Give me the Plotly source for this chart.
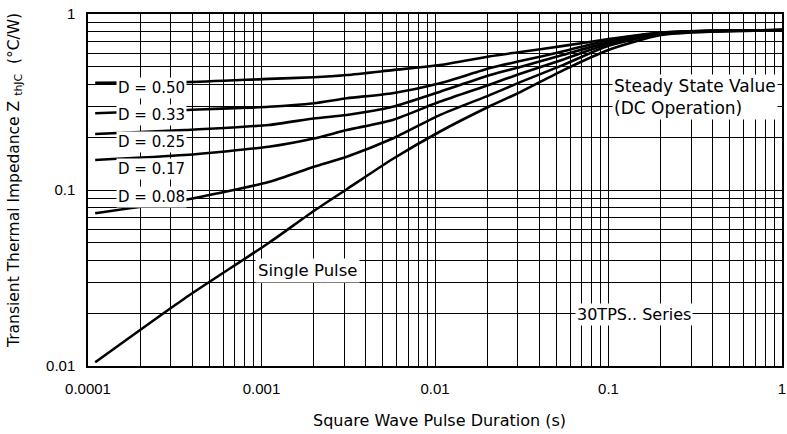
import math
import plotly.graph_objects as go

# ---- data ----
pulse_s = [0.00011, 0.00036, 0.0011, 0.002, 0.0031, 0.0057, 0.0107, 0.0208, 0.031, 0.055, 0.1, 0.2, 0.4, 1.0]
z_d50 = [0.407, 0.41, 0.428, 0.437, 0.45, 0.48, 0.513, 0.575, 0.608, 0.659, 0.72, 0.785, 0.805, 0.81]
z_d33 = [0.273, 0.285, 0.297, 0.311, 0.332, 0.355, 0.404, 0.493, 0.54, 0.614, 0.71, 0.782, 0.803, 0.81]
z_d25 = [0.208, 0.219, 0.234, 0.255, 0.267, 0.297, 0.362, 0.45, 0.50, 0.586, 0.69, 0.778, 0.80, 0.81]
z_d17 = [0.148, 0.158, 0.176, 0.196, 0.219, 0.25, 0.318, 0.398, 0.458, 0.552, 0.675, 0.774, 0.80, 0.81]
z_d08 = [0.0738, 0.0877, 0.111, 0.1355, 0.1546, 0.196, 0.267, 0.347, 0.41, 0.514, 0.66, 0.77, 0.797, 0.81]
z_single = [0.0105, 0.0242, 0.05, 0.076, 0.101, 0.150, 0.215, 0.30, 0.36, 0.48, 0.625, 0.76, 0.795, 0.81]

series_names = ["D = 0.50", "D = 0.33", "D = 0.25", "D = 0.17", "D = 0.08", "Single Pulse"]
series_vals = [z_d50, z_d33, z_d25, z_d17, z_d08, z_single]

x_decades = [0.0001, 0.001, 0.01, 0.1, 1]
x_ticklabels = ["0.0001", "0.001", "0.01", "0.1", "1"]
y_decades = [0.01, 0.1, 1]
y_ticklabels = ["0.01", "0.1", "1"]

# label anchor points (value coordinates)
d_label_x = 0.000233
d_label_y = [0.382, 0.267, 0.188, 0.131, 0.0916]
single_label = (0.00185, 0.0351)
series_label = (0.140, 0.0195)
steady_label = (0.317, 0.336)


def minor_vals(decades):
    return [d * m for d in decades[:-1] for m in range(2, 10)]


FONT = "DejaVu Sans"
TICKFONT = "Liberation Sans"
fig = go.Figure()
for name, vals in zip(series_names, series_vals):
    fig.add_trace(go.Scatter(x=pulse_s, y=vals, mode="lines", name=name,
                             line=dict(color="black", width=2.6, shape="spline", smoothing=0.6),
                             showlegend=False))

annos = []
for name, yy in zip(series_names[:5], d_label_y):
    annos.append(dict(x=math.log10(d_label_x), y=math.log10(yy), xref="x", yref="y",
                      text=name, showarrow=False, bgcolor="white", borderpad=1,
                      font=dict(family=FONT, size=15, color="black")))
annos.append(dict(x=math.log10(single_label[0]), y=math.log10(single_label[1]), xref="x", yref="y",
                  text="Single Pulse", showarrow=False, bgcolor="white", borderpad=2,
                  font=dict(family=FONT, size=16.5, color="black")))
annos.append(dict(x=math.log10(series_label[0]), y=math.log10(series_label[1]), xref="x", yref="y",
                  text="30TPS.. Series", showarrow=False, bgcolor="white", borderpad=1,
                  font=dict(family=FONT, size=16, color="black")))
annos.append(dict(x=math.log10(steady_label[0]), y=math.log10(steady_label[1]), xref="x", yref="y",
                  text="Steady State Value<br>(DC Operation)", showarrow=False, bgcolor="white",
                  borderpad=1, align="left",
                  font=dict(family=FONT, size=17, color="black")))
annos.append(dict(x=(15 - 88) / 694, y=(366 - 181) / 352, xref="paper", yref="paper", textangle=-90,
                  xanchor="center", yanchor="middle",
                  text="Transient Thermal Impedance Z <sub>thJC</sub>  (°C/W)", showarrow=False,
                  font=dict(family=FONT, size=15.5, color="black")))
annos.append(dict(x=(439 - 88) / 694, y=(366 - 420) / 352, xref="paper", yref="paper",
                  xanchor="center", yanchor="middle",
                  text="Square Wave Pulse Duration (s)", showarrow=False,
                  font=dict(family=FONT, size=16, color="black")))

axis_common = dict(type="log", showgrid=True, gridcolor="black", gridwidth=1.4,
                   showline=True, linecolor="black", linewidth=1.5, mirror=True,
                   ticks="", zeroline=False, automargin=False, tickangle=0,
                   tickfont=dict(family=TICKFONT, size=15, color="black"))

fig.update_layout(
    width=787, height=434,
    margin=dict(l=88, r=5, t=14, b=68),
    paper_bgcolor="white", plot_bgcolor="white",
    xaxis=dict(range=[-4, 0], tickvals=x_decades, ticktext=x_ticklabels, ticklabelstandoff=8,
               minor=dict(tickvals=minor_vals(x_decades), showgrid=True, gridcolor="black",
                          gridwidth=1.4, ticks=""),
               **axis_common),
    yaxis=dict(range=[-2, 0], tickvals=y_decades, ticktext=y_ticklabels, ticklabelstandoff=8,
               minor=dict(tickvals=minor_vals(y_decades), showgrid=True, gridcolor="black",
                          gridwidth=1.4, ticks=""),
               **axis_common),
    annotations=annos,
)

fig.write_html("out.html", config={"displayModeBar": False},
               post_script="document.body.style.margin='0';document.body.style.overflow='hidden';")
